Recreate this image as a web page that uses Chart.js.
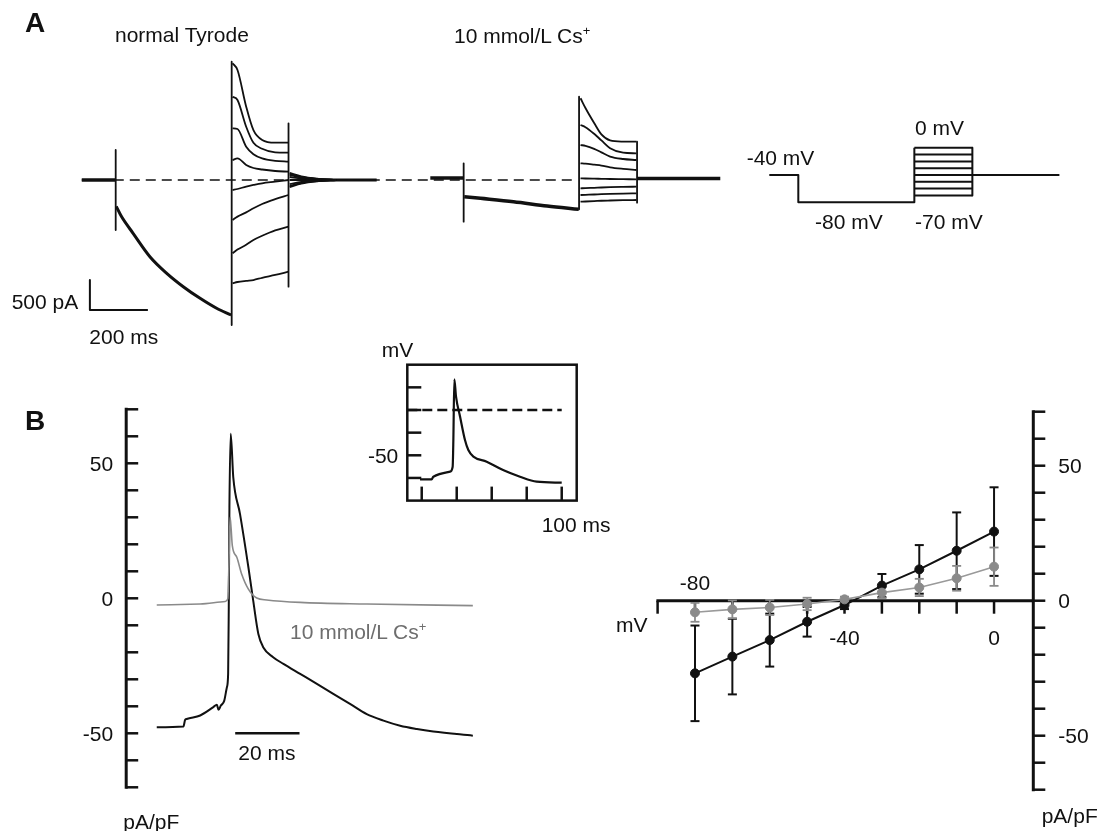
<!DOCTYPE html>
<html>
<head>
<meta charset="utf-8">
<script src="https://cdn.jsdelivr.net/npm/chart.js@4.4.0/dist/chart.umd.min.js"></script>
<style>
  html, body { margin: 0; padding: 0; background: #fff; }
  #fig { position: relative; width: 1109px; height: 831px; overflow: hidden;
         font-family: "Liberation Sans", Arial, sans-serif; color: #111; }
  #fig canvas { position: absolute; }
  .lbl { position: absolute; font-size: 21px; line-height: 21px; white-space: nowrap; }
  .big { font-weight: bold; font-size: 28px; line-height: 28px; }
  .sup { position: relative; top: -8px; font-size: 13px; }
</style>
</head>
<body>
<div id="fig"></div>
<script>
// ---- panel A : whole-cell currents (ms, pA) ----
const aDashTime = [-117, 1590];
const aDashCurrent = [0, 0];
const ntHoldTime = [-117, 0];
const ntHoldCurrent = [0, 0];
const ntCapTime = [0, 400, 596];
const ntCapTop = [500, 1972, 945];
const ntCapBottom = [-833, -2417, -1778];
const ntDecayTime = [2, 20, 60, 118, 176, 233, 291, 348, 398];
const ntDecayCurrent = [-440, -610, -888, -1278, -1555, -1778, -1972, -2138, -2250];
const testTime = [403, 420, 450, 475, 505, 550, 596];
const ntTest = [
  [1945, 1833, 1222, 830, 667, 622, 622],
  [1388, 1333, 888, 620, 520, 460, 455],
  [862, 850, 555, 430, 360, 320, 305],
  [333, 360, 250, 200, 175, 150, 138],
  [-167, -150, -110, -83, -55, -28, 0],
  [-667, -610, -540, -472, -400, -320, -250],
  [-1222, -1160, -1080, -1000, -930, -840, -778],
  [-1722, -1700, -1680, -1667, -1630, -1583, -1528]
];
const tailTime = [600, 640, 700, 760];
const ntTail = [
  [117, 60, 20, 0], [100, 50, 17, 0], [83, 40, 13, 0], [50, 25, 8, 0],
  [0, 0, 0, 0], [-67, -33, -10, 0], [-100, -50, -17, 0], [-117, -60, -20, 0]
];
const ntEndTime = [700, 900];
const ntEndCurrent = [0, 0];

const csOffset = 1200;
const csHoldTime = [-115, 0];
const csHoldCurrent = [33, 33];
const csCapTime = [0, 398, 598];
const csCapTop = [278, 1388, 638];
const csCapBottom = [-695, -489, -378];
const csDecayTime = [2, 58, 172, 288, 397];
const csDecayCurrent = [-278, -305, -362, -433, -489];
const csTest = [
  [1362, 1200, 950, 760, 660, 640, 638],
  [917, 880, 770, 660, 530, 455, 444],
  [583, 570, 520, 460, 390, 350, 333],
  [278, 272, 255, 240, 210, 185, 167],
  [28, 25, 22, 20, 17, 14, 11],
  [-139, -135, -130, -125, -120, -115, -111],
  [-250, -247, -242, -237, -232, -226, -222],
  [-361, -358, -352, -346, -342, -337, -333]
];
const csTailTime = [598, 885];
const csTailCurrent = [25, 25];

const aBarTime = [-89, -89, 111];
const aBarCurrent = [-1667, -2167, -2167];

// ---- voltage protocol (ms, mV) ----
const protoTime = [-100, 0, 0, 400, 400];
const protoVolt = [-40, -40, -80, -80, 0];
const protoSteps = [0, -10, -20, -30, -40, -50, -60, -70];
const protoEndTime = [600, 900];

// ---- panel B : AP-clamp current (ms, pA/pF) ----
const bTime = [0, 8.3, 8.8, 9.3, 13.5, 17.6, 18.7, 19.2, 19.9, 21.0, 21.8, 22.2, 22.4, 22.6, 23.0,
  23.8, 25.9, 28.5, 30.0, 31.6, 33.1, 36.2, 39.4, 44.6, 49.8, 54.9, 60.1, 65.3, 70.5, 75.7, 80.9, 86.0, 98.3];
const bNormal = [-47.8, -47.5, -45.1, -44.7, -43.4, -40.3, -39.4, -41.3, -39.8, -37.9, -33, -28, -3.3, 33.7, 60.9,
  44.8, 31.2, 11.5, -0.9, -13.2, -18.1, -21.8, -24.3, -28, -31.7, -35.4, -39.1, -42.9, -45.3, -47.2, -48.4, -49.3, -50.9];
const bCsTime = [0, 13.5, 21.3, 22.1, 22.5, 22.8, 23.1, 23.5, 24.9, 26.4, 28.5, 31.1, 34.2, 44.6, 65.3, 98.3];
const bCs = [-2.5, -2.1, -1.2, -0.2, 15.2, 30, 26.3, 19.5, 15.2, 9, 3.4, 0.1, -0.6, -1.5, -2.1, -2.7];
const bBarTime = [24.4, 44.4];
const bBarValue = [-50, -50];
const bYTicks = [-70, -60, -50, -40, -30, -20, -10, 0, 10, 20, 30, 40, 50, 60, 70];
const bYLabels = [50, 0, -50];

// ---- inset : action potential (ms, mV) ----
const apTime = [-1.2, 7.1, 8.3, 20.2, 22.1, 22.6, 23.3, 24.5, 27.4, 30.9, 33.3, 36.9, 46.4, 58.1, 70.2, 82.1, 100];
const apVolt = [-76.5, -76.5, -73.6, -68.1, -62.6, -33.1, 33.9, 14.7, -7.4, -33.1, -44.2, -51.5, -57, -66.2, -73.6, -79.1, -80.2];
const apDashTime = [-10.3, 100];
const apDashVolt = [0, 0];
const insetXTicks = [0, 25, 50, 75, 100];
const insetYTicks = [25, 0, -25, -50, -75];
const insetYLabels = [-50];

// ---- I-V relation (mV, pA/pF) ----
const ivVoltage = [-80, -70, -60, -50, -40, -30, -20, -10, 0];
const ivNormal = [-26.9, -20.7, -14.6, -7.8, -1.6, 5.6, 11.6, 18.5, 25.6];
const ivNormalErr = [17.7, 14, 9.8, 5.5, 1.5, 4.3, 9, 14.2, 16.4];
const ivCs = [-4.3, -3.2, -2.5, -1.2, 0.5, 3.0, 4.9, 8.3, 12.6];
const ivCsErr = [3.5, 3.3, 2.8, 2.3, 1, 2, 3.2, 4.6, 7.1];
const ivXTicks = [-90, -80, -70, -60, -50, -40, -30, -20, -10, 0];
const ivXLabelsAbove = [-80];
const ivXLabelsBelow = [-40, 0];
const ivYTicks = [-70, -60, -50, -40, -30, -20, -10, 0, 10, 20, 30, 40, 50, 60, 70];
const ivYLabels = [50, 0, -50];

const ink = '#111';
const grey = '#8a8a8a';
const tickFont = '21px "Liberation Sans", Arial, sans-serif';
const fig = document.getElementById('fig');

function trace(xs, ys, color, width, extra) {
  return Object.assign({
    data: xs.map((x, i) => ({ x: x, y: ys[i] })),
    borderColor: color, borderWidth: width, pointRadius: 0, fill: false
  }, extra || {});
}
function seg(ctx, x1, y1, x2, y2, w, color) {
  ctx.save();
  ctx.strokeStyle = color || ink;
  ctx.lineWidth = w;
  ctx.beginPath(); ctx.moveTo(x1, y1); ctx.lineTo(x2, y2); ctx.stroke();
  ctx.restore();
}
function say(ctx, s, x, y, align) {
  ctx.save();
  ctx.font = tickFont; ctx.fillStyle = ink;
  ctx.textAlign = align; ctx.textBaseline = 'alphabetic';
  ctx.fillText(s, x, y);
  ctx.restore();
}

// canvas placed on the page, chart area given by padding
function makeChart(left, top, w, h, pad, xr, yr, datasets, plugins) {
  const c = document.createElement('canvas');
  c.width = w; c.height = h;
  c.style.left = left + 'px'; c.style.top = top + 'px';
  c.style.width = w + 'px'; c.style.height = h + 'px';
  fig.appendChild(c);
  return new Chart(c.getContext('2d'), {
    type: 'line',
    data: { datasets: datasets },
    options: {
      responsive: false,
      animation: false,
      events: [],
      layout: { padding: pad },
      plugins: { legend: { display: false }, tooltip: { enabled: false } },
      scales: {
        x: { type: 'linear', min: xr[0], max: xr[1], display: false },
        y: { type: 'linear', min: yr[0], max: yr[1], display: false }
      },
      elements: { line: { tension: 0, borderCapStyle: 'butt', borderJoinStyle: 'round' }, point: { radius: 0 } }
    },
    plugins: plugins || []
  });
}

// ---------- panel A ----------
const aSets = [];
const smooth = { cubicInterpolationMode: 'monotone' };
const sh = ts => ts.map(t => t + csOffset);
aSets.push(trace(aDashTime, aDashCurrent, ink, 1.6, { borderDash: [10, 6] }));
aSets.push(trace(ntHoldTime, ntHoldCurrent, ink, 3.5));
ntCapTime.forEach((t, i) => aSets.push(trace([t, t], [ntCapTop[i], ntCapBottom[i]], ink, 1.8)));
aSets.push(trace(ntDecayTime, ntDecayCurrent, ink, 3, smooth));
ntTest.forEach(ys => aSets.push(trace(testTime, ys, ink, 1.8, smooth)));
ntTail.forEach(ys => aSets.push(trace(tailTime, ys, ink, 1.8, smooth)));
aSets.push(trace(ntEndTime, ntEndCurrent, ink, 3));
aSets.push(trace(sh(csHoldTime), csHoldCurrent, ink, 3.5));
csCapTime.forEach((t, i) => aSets.push(trace([t + csOffset, t + csOffset], [csCapTop[i], csCapBottom[i]], ink, 1.8)));
aSets.push(trace(sh(csDecayTime), csDecayCurrent, ink, 3.5, smooth));
csTest.forEach(ys => aSets.push(trace(sh(testTime), ys, ink, 1.8, smooth)));
aSets.push(trace(sh(csTailTime), csTailCurrent, ink, 3.5));
aSets.push(trace(aBarTime, aBarCurrent, ink, 2));
makeChart(0, 0, 740, 345, 0, [-399, 2153], [-2750, 3000], aSets);

// ---------- protocol ----------
const pSets = [trace(protoTime, protoVolt, ink, 2)];
protoSteps.forEach(v => pSets.push(trace([400, 600], [v, v], ink, 2)));
pSets.push(trace([600, 600], [protoSteps[0], protoSteps[protoSteps.length - 1]], ink, 2));
pSets.push(trace(protoEndTime, [-40, -40], ink, 2));
makeChart(740, 100, 369, 140, 0, [-201, 1071], [-135.6, 70.3], pSets);

// ---------- panel B, current traces ----------
const bAxes = {
  id: 'bAxes',
  beforeDatasetsDraw(chart) {
    const ctx = chart.ctx, Y = chart.scales.y, ax = chart.chartArea.left;
    seg(ctx, ax, Y.getPixelForValue(70) - 1.5, ax, Y.getPixelForValue(-70) + 1.5, 3);
    bYTicks.forEach(v => seg(ctx, ax, Y.getPixelForValue(v), ax + 12, Y.getPixelForValue(v), 2.5));
    bYLabels.forEach(v => say(ctx, String(v), ax - 13, Y.getPixelForValue(v) + 7.5, 'right'));
  }
};
makeChart(0, 400, 490, 420, { left: 126.2, right: 11.7, top: 9.3, bottom: 32.7 }, [-9.5, 100], [-70, 70], [
  trace(bCsTime, bCs, grey, 1.6, smooth),
  trace(bTime, bNormal, ink, 2, smooth),
  trace(bBarTime, bBarValue, ink, 2.5)
], [bAxes]);

// ---------- inset ----------
const insetAxes = {
  id: 'insetAxes',
  beforeDatasetsDraw(chart) {
    const ctx = chart.ctx, X = chart.scales.x, Y = chart.scales.y, a = chart.chartArea;
    ctx.save();
    ctx.strokeStyle = ink; ctx.lineWidth = 2.5;
    ctx.strokeRect(a.left, a.top, a.right - a.left, a.bottom - a.top);
    ctx.restore();
    insetXTicks.forEach(v => seg(ctx, X.getPixelForValue(v), a.bottom, X.getPixelForValue(v), a.bottom - 14, 2.5));
    insetYTicks.forEach(v => seg(ctx, a.left, Y.getPixelForValue(v), a.left + 14, Y.getPixelForValue(v), 2.5));
    insetYLabels.forEach(v => say(ctx, String(v), a.left - 9, Y.getPixelForValue(v) + 7.5, 'right'));
  }
};
makeChart(360, 335, 230, 205, { left: 47.3, right: 13.3, top: 29.7, bottom: 39.4 }, [-10.3, 110.7], [-100, 50], [
  trace(apDashTime, apDashVolt, ink, 2.5, { borderDash: [10, 5] }),
  trace(apTime, apVolt, ink, 2.2, smooth)
], [insetAxes]);

// ---------- I-V ----------
function errBars(ctx, X, Y, xs, ys, es, color, w) {
  xs.forEach((x, i) => {
    const px = X.getPixelForValue(x);
    const hi = Y.getPixelForValue(ys[i] + es[i]), lo = Y.getPixelForValue(ys[i] - es[i]);
    seg(ctx, px, hi, px, lo, w, color);
    seg(ctx, px - 4.5, hi, px + 4.5, hi, w, color);
    seg(ctx, px - 4.5, lo, px + 4.5, lo, w, color);
  });
}
const ivAxes = {
  id: 'ivAxes',
  beforeDatasetsDraw(chart) {
    const ctx = chart.ctx, X = chart.scales.x, Y = chart.scales.y, a = chart.chartArea;
    const y0 = Y.getPixelForValue(0);
    seg(ctx, X.getPixelForValue(-90) - 1.2, y0, a.right, y0, 3);
    ivXTicks.forEach(v => seg(ctx, X.getPixelForValue(v), y0, X.getPixelForValue(v), y0 + 13, 2.5));
    ivXLabelsAbove.forEach(v => say(ctx, String(v), X.getPixelForValue(v), y0 - 11, 'center'));
    ivXLabelsBelow.forEach(v => say(ctx, String(v), X.getPixelForValue(v), y0 + 44, 'center'));
    seg(ctx, a.right, Y.getPixelForValue(70) - 1.5, a.right, Y.getPixelForValue(-70) + 1.5, 3);
    ivYTicks.forEach(v => seg(ctx, a.right, Y.getPixelForValue(v), a.right + 12, Y.getPixelForValue(v), 2.5));
    ivYLabels.forEach(v => say(ctx, String(v), a.right + 25, Y.getPixelForValue(v) + 7.5, 'left'));
    errBars(ctx, X, Y, ivVoltage, ivNormal, ivNormalErr, ink, 2);
    errBars(ctx, X, Y, ivVoltage, ivCs, ivCsErr, grey, 1.8);
  }
};
makeChart(600, 400, 509, 431, { left: 57.6, right: 75.7, top: 11.7, bottom: 41.3 }, [-90, 10.5], [-70, 70], [
  trace(ivVoltage, ivCs, '#9a9a9a', 1.6, { pointRadius: 4.5, pointBackgroundColor: grey, pointBorderColor: grey, pointBorderWidth: 1 }),
  trace(ivVoltage, ivNormal, ink, 2, { pointRadius: 4.5, pointBackgroundColor: ink, pointBorderColor: ink, pointBorderWidth: 1 })
], [ivAxes]);

// ---------- labels ----------
function label(html, x, baseline, opts) {
  opts = opts || {};
  const size = opts.size || 21;
  const d = document.createElement('div');
  d.className = 'lbl' + (opts.bold ? ' big' : '');
  d.innerHTML = html;
  d.style.left = x + 'px';
  d.style.top = (baseline - 0.8465 * size) + 'px';
  if (opts.color) d.style.color = opts.color;
  fig.appendChild(d);
}
label('A', 25, 33, { bold: true, size: 28 });
label('normal Tyrode', 115, 42);
label('10 mmol/L Cs<span class="sup">+</span>', 454, 43);
label('500 pA', 11.7, 308.3);
label('200 ms', 89.3, 343.3);
label('-40 mV', 746.7, 165);
label('0 mV', 915, 135);
label('-80 mV', 815, 228.3);
label('-70 mV', 915, 228.3);
label('B', 25, 431, { bold: true, size: 28 });
label('mV', 381.7, 357);
label('100 ms', 541.7, 531.7);
label('10 mmol/L Cs<span class="sup">+</span>', 290, 638.3, { color: '#6e6e6e' });
label('20 ms', 238.3, 759.3);
label('pA/pF', 123.3, 829);
label('mV', 616, 632);
label('pA/pF', 1041.7, 823);
</script>
</body>
</html>
